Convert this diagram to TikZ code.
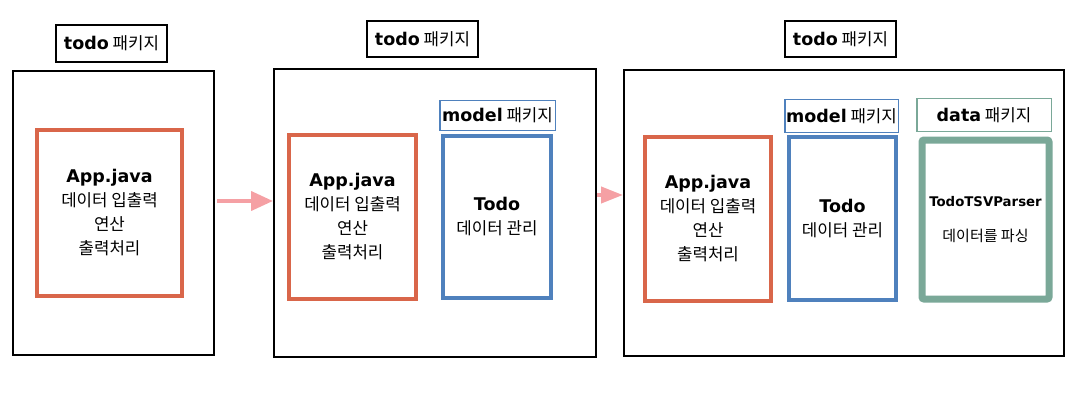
\documentclass[tikz,border=0pt]{standalone}
\usepackage{fontspec}
\setmainfont{Noto Sans CJK KR}
\newfontfamily\lat{DejaVu Sans}
\usetikzlibrary{arrows.meta}
\definecolor{cOrange}{HTML}{D9664A}
\definecolor{cBlue}{HTML}{4F81BD}
\definecolor{cTeal}{HTML}{7AA898}
\definecolor{cPink}{HTML}{F5A0A4}
\newcommand{\kfont}{\fontsize{16.8}{24}\selectfont}
\newcommand{\bl}[1]{{\lat\bfseries\fontsize{17.5}{24}\selectfont #1}}
\tikzset{
  box/.style={draw, inner sep=0pt, align=center, font=\kfont},
  outerbox/.style={box, draw=black, line width=2pt},
  pkglabel/.style={box, draw=black, line width=2pt},
  appbox/.style={box, draw=cOrange, line width=4pt},
  modelbox/.style={box, draw=cBlue, line width=4pt},
  modellabel/.style={box, draw=cBlue, line width=1.5pt},
  datalabel/.style={box, draw=cTeal, line width=1.5pt},
  parserbox/.style={box, draw=cTeal, line width=7pt, rounded corners=2pt},
  flow/.style={draw=cPink, line width=4pt, -{Triangle[length=22pt,width=19pt]}},
  flowsmall/.style={draw=cPink, line width=4pt, -{Triangle[length=22pt,width=16pt]}},
}
\begin{document}
\begin{tikzpicture}[x=1pt,y=-1pt]
\useasboundingbox (0,0) rectangle (1085,404);
% panel 1
\node[outerbox, minimum width=201pt, minimum height=284pt] (p1) at (113.5,213) {};
\node[pkglabel, minimum width=111pt, minimum height=37pt] (l1) at (111.5,43.5) {\bl{todo} 패키지};
\node[appbox, minimum width=145pt, minimum height=166pt] (a1) at (109.5,213) {\bl{App.java}\\데이터 입출력\\연산\\출력처리};
% panel 2
\node[outerbox, minimum width=322pt, minimum height=288pt] (p2) at (435,213) {};
\node[pkglabel, minimum width=111pt, minimum height=36pt] (l2) at (422.5,39) {\bl{todo} 패키지};
\node[appbox, minimum width=127pt, minimum height=164pt] (a2) at (352.5,217) {\bl{App.java}\\데이터 입출력\\연산\\출력처리};
\node[modellabel, minimum width=115.5pt, minimum height=29.5pt] (m2l) at (497.5,115.5) {\bl{model} 패키지};
\node[modelbox, minimum width=108pt, minimum height=162pt] (m2) at (497,217) {\bl{Todo}\\데이터 관리};
% panel 3
\node[outerbox, minimum width=440pt, minimum height=286pt] (p3) at (844,213) {};
\node[pkglabel, minimum width=111pt, minimum height=36pt] (l3) at (840.5,39) {\bl{todo} 패키지};
\node[appbox, minimum width=126pt, minimum height=164pt] (a3) at (708,219) {\bl{App.java}\\데이터 입출력\\연산\\출력처리};
\node[modellabel, minimum width=113.5pt, minimum height=32.5pt] (m3l) at (841.5,116) {\bl{model} 패키지};
\node[modelbox, minimum width=107pt, minimum height=163pt] (m3) at (842.5,218.5) {\bl{Todo}\\데이터 관리};
\node[datalabel, minimum width=134.5pt, minimum height=32.5pt] (d3l) at (984,115) {\bl{data} 패키지};
\node[parserbox, minimum width=127pt, minimum height=159pt, font=\fontsize{15}{24}\selectfont] (d3) at (985.5,219.5) {{\lat\bfseries\fontsize{13.3}{24}\selectfont TodoTSVParser}\\[11pt]데이터를 파싱};
% arrows
\draw[flow] ([xshift=2pt,yshift=12pt]p1.east) -- ([yshift=12pt]p2.west);
\draw[flowsmall] ([yshift=18pt]p2.east) -- ([yshift=18pt]p3.west);
\end{tikzpicture}
\end{document}
